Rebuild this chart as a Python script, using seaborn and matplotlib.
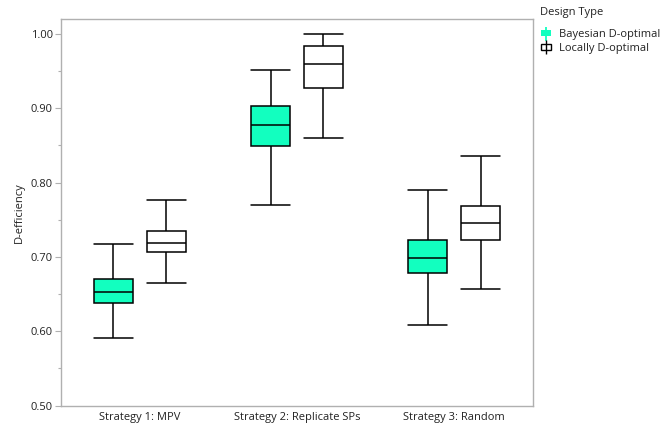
import numpy as np
import pandas as pd
import matplotlib
matplotlib.use("Agg")
import matplotlib.pyplot as plt
import seaborn as sns
from matplotlib.patches import Patch
from matplotlib.lines import Line2D
from matplotlib.ticker import MultipleLocator, FormatStrFormatter

# Five-number summaries: [min, q1, median, q3, max]
strategies = ["Strategy 1: MPV", "Strategy 2: Replicate SPs", "Strategy 3: Random"]
designs = ["Bayesian D-optimal", "Locally D-optimal"]
bayes_stats = [
    [0.591, 0.638, 0.653, 0.670, 0.718],
    [0.770, 0.849, 0.878, 0.903, 0.951],
    [0.609, 0.678, 0.699, 0.723, 0.790],
]
local_stats = [
    [0.665, 0.707, 0.719, 0.735, 0.776],
    [0.860, 0.927, 0.959, 0.984, 1.000],
    [0.657, 0.723, 0.746, 0.768, 0.836],
]

rows = []
for s, b, l in zip(strategies, bayes_stats, local_stats):
    for v in b:
        rows.append((s, designs[0], v))
    for v in l:
        rows.append((s, designs[1], v))
df = pd.DataFrame(rows, columns=["Strategy", "Design Type", "D-efficiency"])

sns.set_theme(style="white")
plt.rcParams["font.family"] = ["Open Sans", "DejaVu Sans"]

TEAL = "#12FFBF"
FS = 8
fig = plt.figure(figsize=(6.63, 4.28), dpi=100)
ax = fig.add_axes([61 / 663, 1 - 405.5 / 428, (533 - 61) / 663, (405.5 - 19.3) / 428])

lw = 1.1
sns.boxplot(
    data=df, x="Strategy", y="D-efficiency", hue="Design Type",
    order=strategies, hue_order=designs,
    palette={designs[0]: TEAL, designs[1]: "white"}, saturation=1,
    width=0.67, gap=0.26, whis=(0, 100), showfliers=False,
    linecolor="black", linewidth=lw,
    capwidths=0.248,
    medianprops=dict(color="black", linewidth=lw),
    ax=ax, legend=False,
)

ax.set_xlim(-0.5, 2.5)
ax.set_ylim(0.5, 1.0198)
ax.yaxis.set_major_locator(MultipleLocator(0.1))
ax.yaxis.set_minor_locator(MultipleLocator(0.05))
ax.yaxis.set_major_formatter(FormatStrFormatter("%.2f"))
ax.tick_params(axis="y", which="major", length=4, width=0.8, color="#b0b0b0",
               labelsize=FS, labelcolor="#222222", pad=2, left=True)
ax.tick_params(axis="y", which="minor", length=2, width=0.8, color="#b0b0b0", left=True)
ax.tick_params(axis="x", length=0, labelsize=FS, labelcolor="#222222", pad=5)
ax.set_xlabel("")
ax.set_ylabel("D-efficiency", fontsize=FS, color="#222222", labelpad=4)
for sp in ax.spines.values():
    sp.set_visible(True)
    sp.set_color("#b0b0b0")
    sp.set_linewidth(1.0)

fig.text(540 / 663, 1 - 12 / 428, "Design Type", fontsize=FS, color="#222222",
         ha="left", va="center")
handles = [
    (Patch(facecolor=TEAL, edgecolor=TEAL, linewidth=0),
     Line2D([0], [0], marker="|", color=TEAL, markersize=10, linestyle="none", markeredgewidth=1.3)),
    (Patch(facecolor="white", edgecolor="black", linewidth=1.0),
     Line2D([0], [0], marker="|", color="black", markersize=10, linestyle="none", markeredgewidth=1.0)),
]
leg = fig.legend(handles, designs, loc="upper left",
                 bbox_to_anchor=(541 / 663, 1 - 29 / 428), frameon=False,
                 fontsize=FS, handlelength=0.9, handleheight=0.45,
                 handletextpad=0.7, labelspacing=0.25, borderaxespad=0, borderpad=0)
for t in leg.get_texts():
    t.set_color("#222222")

fig.savefig("out.png", dpi=100)
